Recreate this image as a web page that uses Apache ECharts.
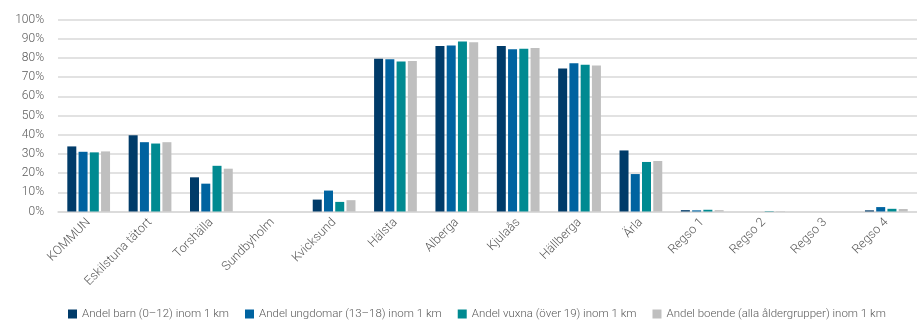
<!DOCTYPE html>
<html>
<head>
<meta charset="utf-8">
<script src="https://cdn.jsdelivr.net/npm/echarts@6/dist/echarts.min.js"></script>
<style>html,body{margin:0;padding:0;background:#fff}#c{width:917px;height:322px}</style>
</head>
<body>
<div id="c"></div>
<script>
const categories = ['KOMMUN','Eskilstuna tätort','Torshälla','Sundbyholm','Kvicksund','Hälsta','Alberga','Kjulaås','Hällberga','Ärla','Regso 1','Regso 2','Regso 3','Regso 4'];
const seriesNames = ['Andel barn (0–12) inom 1 km','Andel ungdomar (13–18) inom 1 km','Andel vuxna (över 19) inom 1 km','Andel boende (alla åldergrupper) inom 1 km'];
const barn     = [33.9, 39.7, 17.8, 0, 6.2, 79.6, 86.2, 86.2, 74.5, 31.8, 0.7, 0, 0, 0.6];
const ungdomar = [31.1, 36.1, 14.5, 0, 10.9, 79.3, 86.5, 84.5, 77.2, 19.5, 0.6, 0, 0, 2.3];
const vuxna    = [30.8, 35.4, 23.8, 0, 5.0, 78.1, 88.6, 84.8, 76.4, 25.8, 0.9, 0.2, 0, 1.4];
const boende   = [31.3, 36.1, 22.3, 0, 5.9, 78.4, 88.1, 85.2, 76.0, 26.3, 0.7, 0.2, 0, 1.3];
const yTicks = [0,10,20,30,40,50,60,70,80,90,100];
const colors = ['#003b69','#0063a0','#008a91','#bfbfbf'];

const values = [barn, ungdomar, vuxna, boende];
const font = 'Roboto, "DejaVu Sans", sans-serif';
const chart = echarts.init(document.getElementById('c'), null, {renderer:'canvas'});
chart.setOption({
  animation:false,
  color: colors,
  grid:{left:58, top:19.5, width:866, height:192, containLabel:false},
  legend:{
    left:68, top:308, width:860, itemWidth:9, itemHeight:9, itemGap:16,
    icon:'rect', padding:0,
    textStyle:{color:'#595959', fontSize:11.5, fontFamily:font, fontWeight:300},
    data: seriesNames
  },
  xAxis:{
    type:'category', data:categories,
    axisLine:{show:true, lineStyle:{color:'#d9d9d9', width:1.5}},
    axisTick:{show:false},
    axisLabel:{rotate:45, margin:9, color:'#595959', fontSize:12.5, fontFamily:font, fontWeight:300, interval:0}
  },
  yAxis:{
    type:'value', min:yTicks[0], max:yTicks[yTicks.length-1], interval:10,
    axisLine:{show:false}, axisTick:{show:false},
    splitLine:{lineStyle:{color:'#d9d9d9', width:1.5}},
    axisLabel:{formatter:'{value}%', margin:14, color:'#595959', fontSize:12, fontFamily:font, fontWeight:300}
  },
  series: seriesNames.map((n,i)=>({
    name:n, type:'bar', data:values[i], barWidth:9, barGap:'25%',
    itemStyle:{color:colors[i]}
  }))
});
</script>
</body>
</html>
